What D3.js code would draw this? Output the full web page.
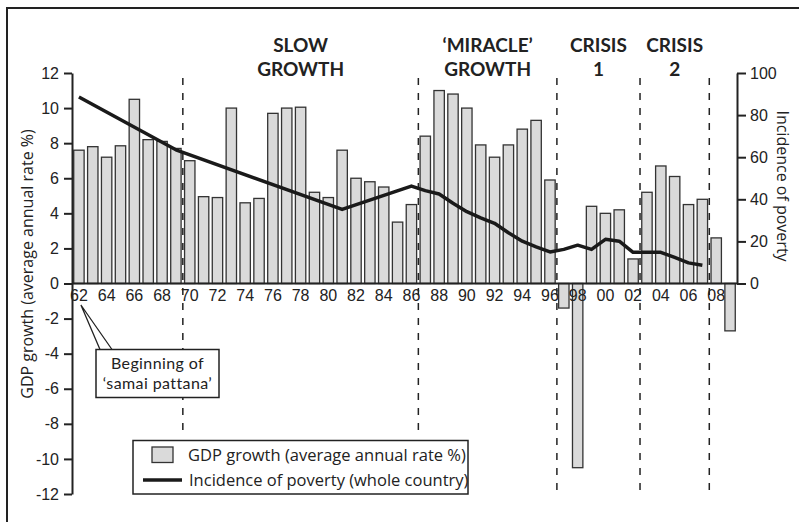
<!DOCTYPE html>
<html>
<head>
<meta charset="utf-8">
<script src="https://cdn.jsdelivr.net/npm/d3@7"></script>
<style>
  body { margin: 0; background: #fff; }
  svg { font-family: "Open Sans", sans-serif; }
</style>
</head>
<body>
<div id="chart"></div>
<script>
// GDP growth by year (average annual rate %)
const years = d3.range(1962, 2010);
const gdpGrowth = [
  7.6, 7.8, 7.2, 7.85, 10.5, 8.2, 8.1, 7.7,
  7.0, 4.95, 4.9, 10.0, 4.6, 4.85, 9.7, 10.0, 10.05, 5.2, 4.9, 7.6, 6.0, 5.8, 5.5, 3.5, 4.5,
  8.4, 11.0, 10.8, 10.0, 7.9, 7.2, 7.9, 8.8, 9.3, 5.9,
  -1.4, -10.5, 4.4, 4.0, 4.2, 1.4,
  5.2, 6.7, 6.1, 4.5, 4.8,
  2.6, -2.7
];

// Incidence of poverty (whole country, %)
const povertyYears = [1962, 1969, 1981, 1986, 1987, 1988, 1989, 1990, 1991, 1992, 1993, 1994, 1995, 1996,
  1997, 1998, 1999, 2000, 2001, 2002, 2003, 2004, 2005, 2006, 2007];
const povertyValues = [88.6, 63.5, 35.2, 46.3, 44.1, 42.5, 38.1, 34.1, 31.2, 28.6, 24.1, 20.1, 17.4, 15.0,
  16.2, 18.2, 16.2, 21.0, 20.1, 14.8, 14.8, 14.8, 12.4, 9.8, 8.7];

// periods: first year of each new period gets a dashed line
const periodStarts = [1970, 1987, 1997, 2003, 2008];
const periodLabels = [
  {lines: ["SLOW", "GROWTH"], from: 1970, to: 1986},
  {lines: ["\u2018MIRACLE\u2019", "GROWTH"], from: 1987, to: 1996},
  {lines: ["CRISIS", "1"], from: 1997, to: 2002},
  {lines: ["CRISIS", "2"], from: 2003, to: 2007}
];

const leftTicks = d3.range(-12, 13, 2);
const rightTicks = [0, 20, 40, 60, 80, 100];
const yearTicks = d3.range(1962, 2009, 2);

const width = 799, height = 522;

const svg = d3.select("#chart").append("svg")
    .attr("width", width)
    .attr("height", height);

// outer frame (left and top edges visible)
svg.append("path")
    .attr("d", "M7,522V8H799")
    .attr("fill", "none")
    .attr("stroke", "#222")
    .attr("stroke-width", 2);

const x = d3.scaleBand()
    .domain(years)
    .range([72, 737])
    .paddingInner(0.25)
    .paddingOuter(0.125);

const yL = d3.scaleLinear().domain([-12, 12]).range([494, 73]);
const yR = d3.scaleLinear().domain([0, 100]).range([yL(0), yL(12)]);

const gap = (x.step() - x.bandwidth()) / 2;

// dashed period separators
svg.append("g")
    .selectAll("line")
    .data(periodStarts)
    .enter().append("line")
      .attr("x1", d => x(d) - gap)
      .attr("x2", d => x(d) - gap)
      .attr("y1", 78)
      .attr("y2", d => (d === 1970 || d === 1987) ? 433 : yL(-12))
      .attr("stroke", "#222")
      .attr("stroke-width", 1.5)
      .attr("stroke-dasharray", "7,8");

// bars
svg.append("g")
    .selectAll("rect")
    .data(years.map((yr, i) => ({year: yr, v: gdpGrowth[i]})))
    .enter().append("rect")
      .attr("x", d => x(d.year))
      .attr("width", x.bandwidth())
      .attr("y", d => yL(Math.max(0, d.v)))
      .attr("height", d => Math.abs(yL(d.v) - yL(0)))
      .attr("fill", "#dadada")
      .attr("stroke", "#333")
      .attr("stroke-width", 1.3);

// poverty line
const line = d3.line()
    .x(d => x(d[0]) + x.bandwidth() / 2)
    .y(d => yR(d[1]));

svg.append("path")
    .datum(povertyYears.map((yr, i) => [yr, povertyValues[i]]))
    .attr("d", line)
    .attr("fill", "none")
    .attr("stroke", "#1a1a1a")
    .attr("stroke-width", 3.5)
    .attr("stroke-linejoin", "round");

// axes
const leftAxis = svg.append("g")
    .attr("transform", "translate(72,0)")
    .call(d3.axisLeft(yL).tickValues(leftTicks).tickSize(8).tickSizeOuter(0).tickPadding(5)
      .tickFormat(d => String(d)));

const rightAxis = svg.append("g")
    .attr("transform", "translate(737,0)")
    .call(d3.axisRight(yR).tickValues(rightTicks).tickSize(9).tickSizeOuter(0).tickPadding(4));

const xAxis = svg.append("g")
    .attr("transform", "translate(0," + yL(0) + ")")
    .call(d3.axisBottom(x).tickValues(yearTicks).tickSize(0).tickSizeOuter(0).tickPadding(6)
      .tickFormat(d => String(d).slice(2)));

[leftAxis, rightAxis, xAxis].forEach(g => {
  g.selectAll("path, line").attr("stroke", "#222").attr("stroke-width", 2);
  g.selectAll("text").attr("fill", "#222").style("font-size", "16px");
});
xAxis.select(".domain").attr("d", "M72,0H737");

// axis titles
svg.append("text")
    .attr("transform", "translate(33,264) rotate(-90)")
    .attr("text-anchor", "middle")
    .style("font-size", "16px")
    .attr("fill", "#222")
    .text("GDP growth (average annual rate %)");

svg.append("text")
    .attr("transform", "translate(777,186) rotate(90)")
    .attr("text-anchor", "middle")
    .style("font-size", "16px")
    .attr("fill", "#222")
    .text("Incidence of poverty");

// period labels
const pl = svg.append("g")
    .selectAll("text")
    .data(periodLabels)
    .enter().append("text")
      .attr("text-anchor", "middle")
      .style("font-family", "Lato, sans-serif")
      .style("font-size", "19px")
      .style("font-weight", "bold")
      .attr("fill", "#222")
      .attr("transform", d => "translate(" + ((x(d.from) + x(d.to) + x.bandwidth()) / 2) + ",0)");

pl.selectAll("tspan")
    .data(d => d.lines)
    .enter().append("tspan")
      .attr("x", 0)
      .attr("y", (d, i) => 52 + i * 23.5)
      .text(d => d);

// annotation
const ax = x(1962) + x.bandwidth() / 2 + 2;
svg.append("path")
    .attr("d", "M" + ax + ",305L100,349.5M" + ax + ",305L112,349.5")
    .attr("fill", "none")
    .attr("stroke", "#222")
    .attr("stroke-width", 1.3);

svg.append("rect")
    .attr("x", 96).attr("y", 349.5)
    .attr("width", 123).attr("height", 48)
    .attr("fill", "#fff")
    .attr("stroke", "#222")
    .attr("stroke-width", 1.5);

svg.append("text")
    .attr("x", 157.5)
    .attr("text-anchor", "middle")
    .style("font-family", "Lato, sans-serif")
    .style("font-size", "16px")
    .style("letter-spacing", "0.4px")
    .attr("fill", "#222")
    .selectAll("tspan")
    .data(["Beginning of", "\u2018samai pattana\u2019"])
    .enter().append("tspan")
      .attr("x", 157.5)
      .attr("y", (d, i) => 369 + i * 19.5)
      .text(d => d);

// legend
const legend = svg.append("g");
legend.append("rect")
    .attr("x", 133).attr("y", 440.5)
    .attr("width", 335).attr("height", 53.5)
    .attr("fill", "#fff")
    .attr("stroke", "#222")
    .attr("stroke-width", 1.5);
legend.append("rect")
    .attr("x", 152).attr("y", 447)
    .attr("width", 21).attr("height", 15.5)
    .attr("fill", "#dadada")
    .attr("stroke", "#333")
    .attr("stroke-width", 1.3);
legend.append("line")
    .attr("x1", 143).attr("x2", 182)
    .attr("y1", 480).attr("y2", 480)
    .attr("stroke", "#1a1a1a")
    .attr("stroke-width", 3.5);
legend.append("text")
    .attr("x", 188).attr("y", 461)
    .style("font-size", "16.5px")
    .attr("fill", "#222")
    .text("GDP growth (average annual rate %)");
legend.append("text")
    .attr("x", 189).attr("y", 485.5)
    .style("font-size", "16.5px")
    .attr("fill", "#222")
    .text("Incidence of poverty (whole country)");
</script>
</body>
</html>
